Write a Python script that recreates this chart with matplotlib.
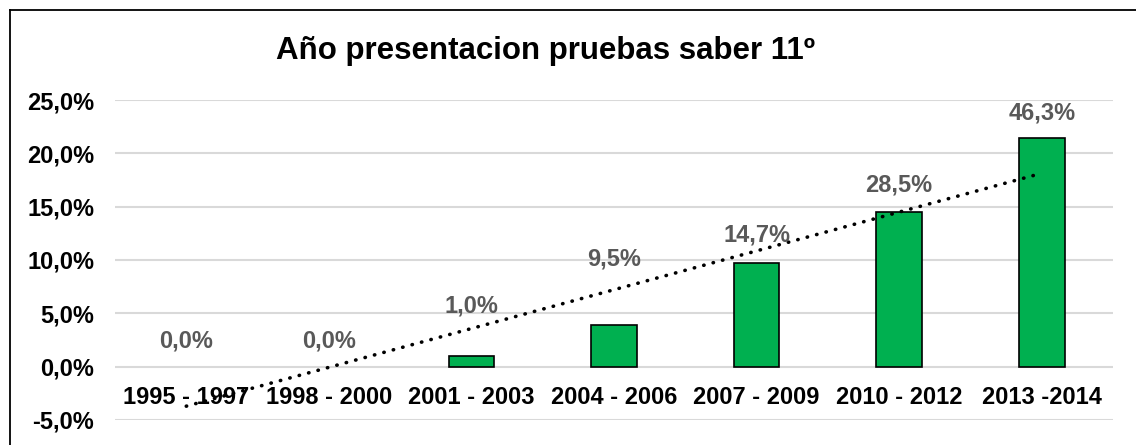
import matplotlib
matplotlib.use("Agg")
import matplotlib.pyplot as plt
import numpy as np
from matplotlib.lines import Line2D

# data
categories = ["1995 - 1997", "1998 - 2000", "2001 - 2003", "2004 - 2006",
              "2007 - 2009", "2010 - 2012", "2013 -2014"]
values = [0.0, 0.0, 1.0, 3.9, 9.7, 14.5, 21.4]
label_values = [0.0, 0.0, 1.0, 9.5, 14.7, 28.5, 46.3]
label_offsets = [26, 26, 50, 66, 28, 27, 25]   # px above bar top
yticks = [-5, 0, 5, 10, 15, 20, 25]

plt.rcParams['font.family'] = ['Liberation Sans', 'DejaVu Sans']

fig = plt.figure(figsize=(11.36, 4.45), dpi=100)
ax = fig.add_axes([115/1136, 25/445, 998/1136, 320/445])

x = np.arange(len(categories))
ax.bar(x, values, width=0.32, color="#00b050", edgecolor="black",
       linewidth=[1.2 if v > 0 else 0 for v in values], zorder=3)

# linear trend line
k, b = np.polyfit(x, values, 1)
ax.plot([x[0], x[-1]], [k * x[0] + b, k * x[-1] + b], color="black", lw=2.6,
        linestyle=(0, (0.1, 2.6)), dash_capstyle="round", zorder=4)

for xi, v, lv, off in zip(x, values, label_values, label_offsets):
    ax.annotate(f"{lv:.1f}%".replace(".", ","), (xi, v), xytext=(0, off),
                textcoords="offset pixels", ha="center", va="center",
                fontsize=17, fontweight="bold", color="#595959", zorder=5)

ax.spines["bottom"].set_position(("data", 0))
for s in ax.spines.values():
    s.set_visible(False)

ax.set_xlim(-0.5, len(categories) - 0.5)
ax.set_ylim(-5, 25)
ax.set_yticks(yticks)
ax.set_yticklabels([f"{t:.1f}%".replace(".", ",") for t in yticks],
                   fontsize=17, fontweight="bold")
ax.grid(axis="y", color="#d9d9d9", lw=1.5, zorder=0)
ax.set_axisbelow(True)

ax.set_xticks(x)
ax.set_xticklabels(categories, fontsize=17, fontweight="bold")
ax.tick_params(axis="x", length=0, pad=14)
ax.tick_params(axis="y", length=0, pad=15)

fig.text(546/1136, 1 - 51/445, "Año presentacion pruebas saber 11º", ha="center", va="center",
         fontsize=22.5, fontweight="bold")

# chart border (left and top edges visible)
fig.add_artist(Line2D([10/1136, 10/1136], [0, 1 - 10/445], color="black", lw=1.3))
fig.add_artist(Line2D([10/1136, 1], [1 - 10/445, 1 - 10/445], color="black", lw=1.3))

fig.savefig("out.png", dpi=100)
